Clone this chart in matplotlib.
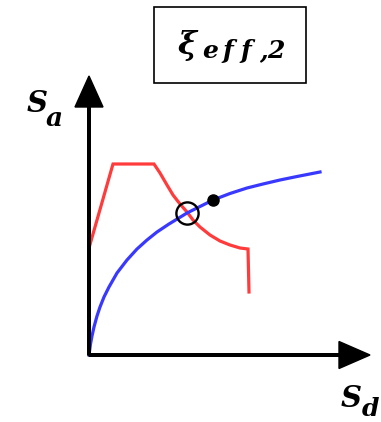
"""Capacity spectrum sketch: demand spectrum vs. capacity curve at damping xi_eff,2."""
import matplotlib
matplotlib.use("Agg")
import matplotlib.pyplot as plt
from matplotlib.patches import Rectangle

# capacity curve (Sd, Sa)
sd_capacity = [0, 1.5, 3, 5, 8, 11, 15, 20, 28, 38, 48, 58, 68, 80, 98,
               124, 141, 158, 174, 191, 208, 231]
sa_capacity = [0, 11, 19, 28, 39, 48, 58, 68, 82, 95, 106, 115, 123, 131, 142,
               155, 161.5, 167, 171, 175, 178.5, 183]

# reduced demand spectrum for xi_eff,2
sd_demand = [0, 24, 65, 71, 78, 84, 91, 98, 104, 111, 121, 131, 141, 151, 159, 160]
sa_demand = [107, 191, 191, 182, 170, 160, 151, 143, 135, 128, 120, 114, 110, 107, 106, 63]

# intersection of the two curves and the trial performance point
sd_cross, sa_cross = [98], [142]
sd_trial, sa_trial = [124], [155]

SERIF = {"family": "DejaVu Serif", "weight": "bold", "style": "italic"}

fig = plt.figure(figsize=(3.81, 4.22), dpi=100)
ax = fig.add_axes([0, 0, 1, 1])
ax.set_xlim(-89, 292)
ax.set_ylim(-67, 355)
ax.axis("off")

# axes with arrow heads
ax.arrow(0, 0, 0, 279, width=2.6, head_width=28, head_length=31,
         length_includes_head=True, color="black", zorder=3)
ax.arrow(0, 0, 281, 0, width=2.6, head_width=27, head_length=31,
         length_includes_head=True, color="black", zorder=3)

ax.plot(sd_demand, sa_demand, color="#ff3b3b", lw=2.3, solid_joinstyle="miter", zorder=2)
ax.plot(sd_capacity, sa_capacity, color="#3838ff", lw=2.3,
        solid_joinstyle="round", zorder=2)

ax.plot(sd_cross, sa_cross, "o", ms=16, mfc="none", mec="black", mew=1.7, zorder=4)
ax.plot(sd_trial, sa_trial, "o", ms=8, color="black", zorder=4)

# axis labels, subscripts set a little lower and smaller
ax.text(-62, 243, "S", fontsize=21, ha="left", va="baseline", **SERIF)
ax.text(-43, 229, "a", fontsize=19, ha="left", va="baseline", **SERIF)
ax.text(252, -52, "S", fontsize=21, ha="left", va="baseline", **SERIF)
ax.text(273, -61, "d", fontsize=18, ha="left", va="baseline", **SERIF)

# damping label in its box; the subscript is spread out glyph by glyph
ax.add_patch(Rectangle((65, 272), 152, 76, fill=False, ec="black", lw=1.2))
ax.text(89, 301, "ξ", fontsize=23, ha="left", va="baseline", **SERIF)
for ch, x in zip("eff,2", [113, 133, 151, 170, 178]):
    ax.text(x, 297, ch, fontsize=18, ha="left", va="baseline", **SERIF)

fig.savefig("out.png", dpi=100)
